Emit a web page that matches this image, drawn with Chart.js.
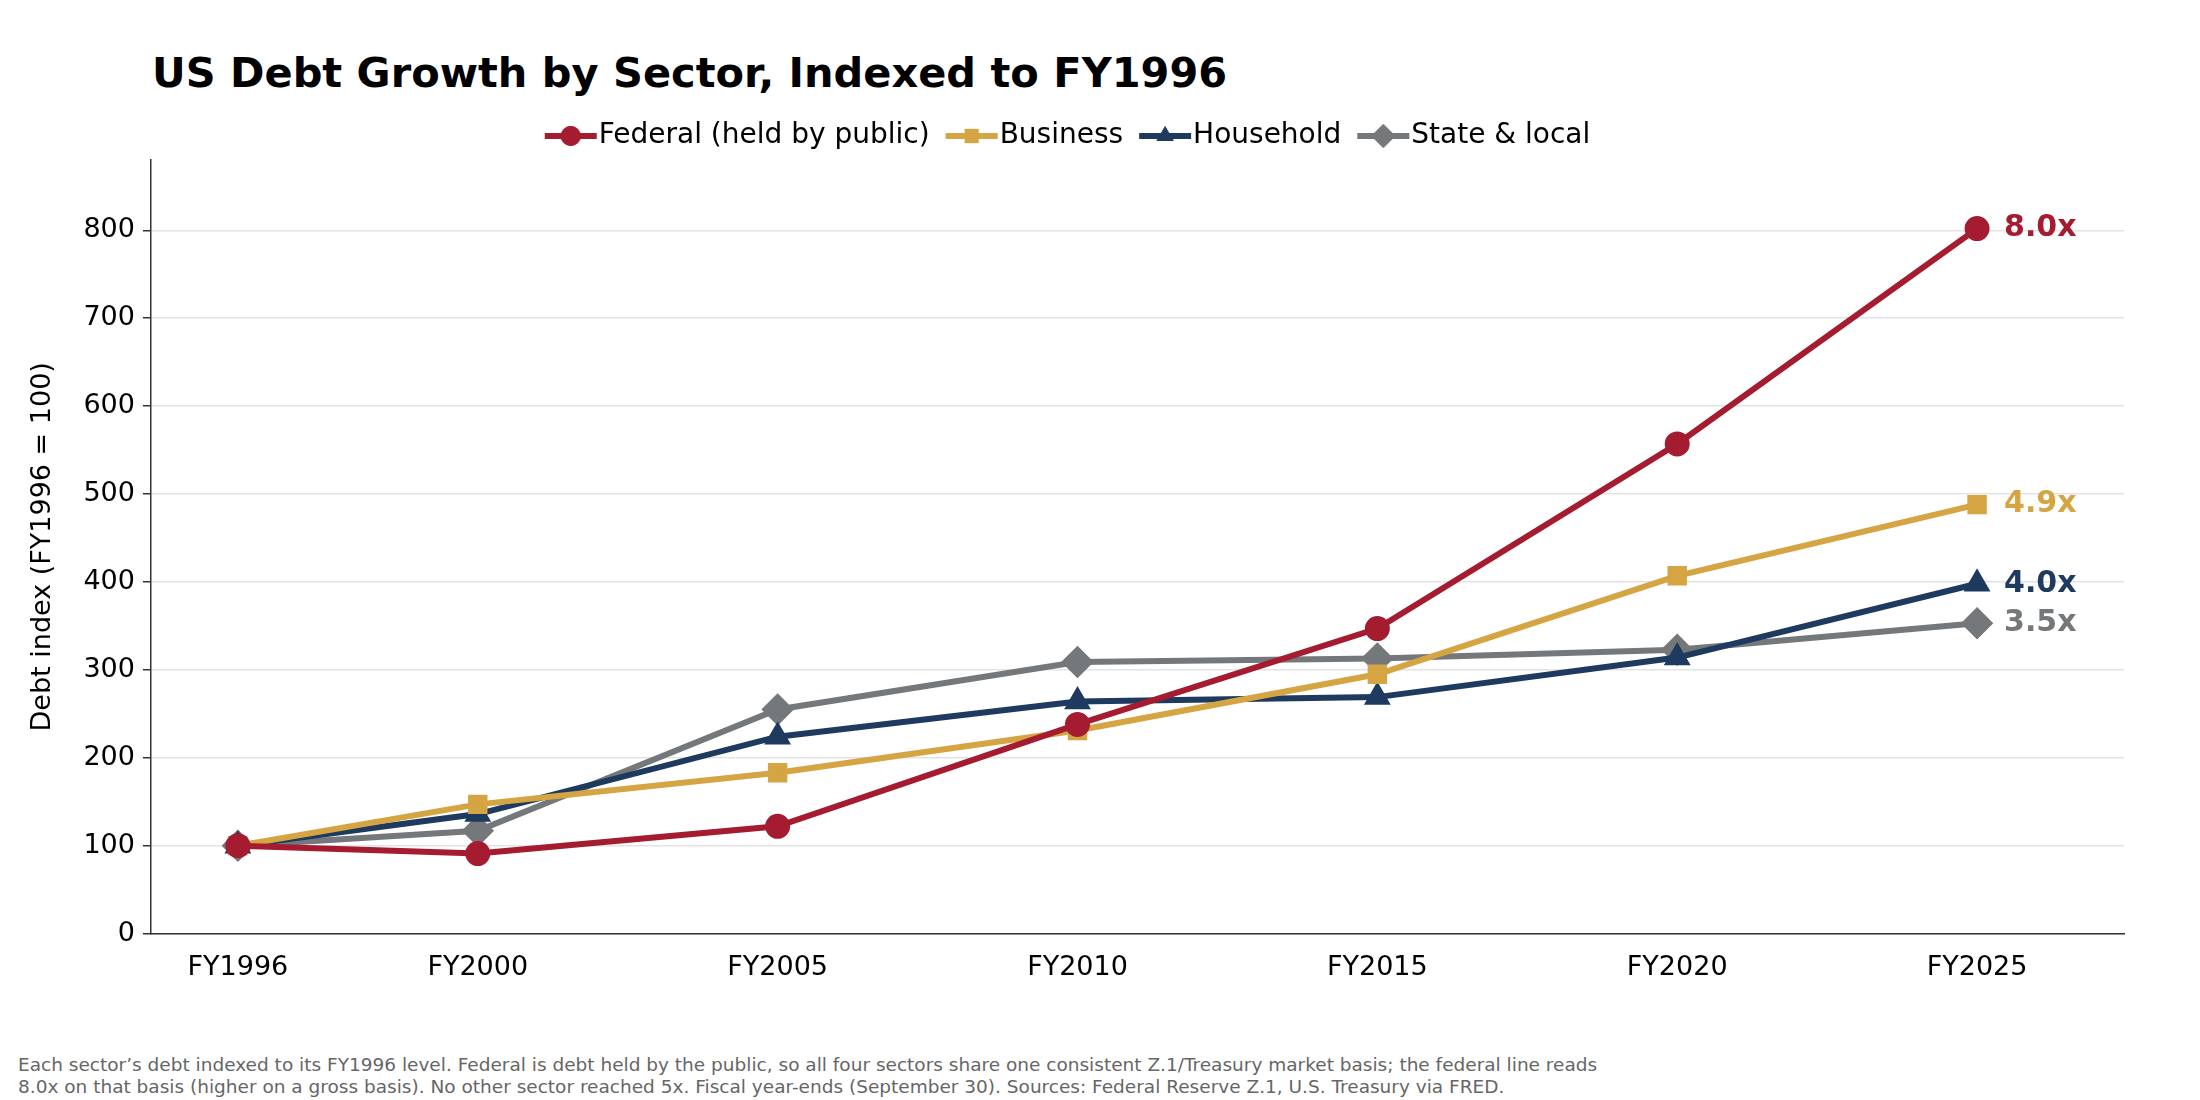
<!DOCTYPE html>
<html><head><meta charset="utf-8">
<script src="https://cdn.jsdelivr.net/npm/chart.js@4.4.1/dist/chart.umd.min.js"></script>
<style>
body{margin:0;background:#fff;font-family:"DejaVu Sans",sans-serif;}
#wrap{position:relative;width:2200px;height:1100px;}
#title{position:absolute;left:152px;top:48px;font-size:41.5px;font-weight:bold;color:#000;}
#cw{position:absolute;left:0;top:94px;width:2200px;height:900px;}
#foot{position:absolute;left:18px;top:1054px;font-size:18.5px;color:#666;line-height:22px;}
</style></head><body>
<div id="wrap">
<div id="title">US Debt Growth by Sector, Indexed to FY1996</div>
<div id="cw"><canvas id="c"></canvas></div>
<div id="foot">Each sector’s debt indexed to its FY1996 level. Federal is debt held by the public, so all four sectors share one consistent Z.1/Treasury market basis; the federal line reads<br>8.0x on that basis (higher on a gross basis). No other sector reached 5x. Fiscal year-ends (September 30). Sources: Federal Reserve Z.1, U.S. Treasury via FRED.</div>
</div>
<script>
const years = [1996, 2000, 2005, 2010, 2015, 2020, 2025];
const federal = [100, 91, 122, 238, 347, 557, 802];
const business = [100, 147, 183, 231, 295, 407, 488];
const household = [100, 136, 224, 264, 269, 314, 398];
const stateLocal = [100, 117, 255, 309, 313, 323, 353];
const endLabels = ["8.0x", "4.9x", "4.0x", "3.5x"];
const names = ["Federal (held by public)", "Business", "Household", "State & local"];
const colors = ["#A51C30", "#D4A542", "#1F3A5F", "#75787B"];
const styles = ["circle", "rect", "triangle", "rectRot"];
const series = [federal, business, household, stateLocal];

function legendIcon(i) {
  const cv = document.createElement('canvas');
  cv.width = 54; cv.height = 28;
  const g = cv.getContext('2d');
  g.strokeStyle = colors[i]; g.fillStyle = colors[i]; g.lineWidth = 6;
  g.beginPath(); g.moveTo(1, 14); g.lineTo(53, 14); g.stroke();
  Chart.helpers.drawPoint(g, {pointStyle: styles[i], radius: i === 3 ? 12 : 10, rotation: 0, borderWidth: 0}, 27, 14);
  g.fill();
  return cv;
}

const datasets = series.map((s, i) => ({
  label: names[i],
  data: s.map((v, j) => ({x: years[j], y: v})),
  borderColor: colors[i], backgroundColor: colors[i],
  borderWidth: 6, pointStyle: styles[i],
  pointRadius: i === 3 ? 12 : 9.5, pointHoverRadius: 9,
  tension: 0
}));

const endLabelPlugin = {
  id: 'endLabels',
  afterDatasetsDraw(chart) {
    const ctx = chart.ctx;
    ctx.save();
    ctx.font = 'bold 30px "DejaVu Sans"';
    ctx.textBaseline = 'middle';
    chart.data.datasets.forEach((ds, i) => {
      const meta = chart.getDatasetMeta(i);
      const p = meta.data[meta.data.length - 1];
      ctx.fillStyle = colors[i];
      ctx.fillText(endLabels[i], p.x + 27, p.y);
    });
    ctx.restore();
  }
};

Chart.defaults.font.family = '"DejaVu Sans", sans-serif';
new Chart(document.getElementById('c'), {
  type: 'line',
  data: {datasets},
  plugins: [endLabelPlugin],
  options: {
    responsive: true, maintainAspectRatio: false, animation: false,
    layout: {padding: {left: 23, right: 76, top: 0, bottom: 0}},
    plugins: {
      legend: {
        position: 'top',
        labels: {
          usePointStyle: true, font: {size: 28}, color: '#000', padding: 28,
          generateLabels: (chart) => chart.data.datasets.map((ds, i) => ({
            text: ds.label, pointStyle: legendIcon(i), fillStyle: colors[i],
            strokeStyle: colors[i], lineWidth: 0, hidden: false, datasetIndex: i, fontColor: '#000'
          }))
        }
      },
      tooltip: {enabled: false}
    },
    scales: {
      x: {
        type: 'linear', min: 1994.55, max: 2027.45,
        afterBuildTicks: (ax) => { ax.ticks = years.map(v => ({value: v})); },
        ticks: {callback: v => 'FY' + v, font: {size: 27}, color: '#000', padding: 10, maxRotation: 0},
        grid: {display: false, drawTicks: true, tickLength: 8, tickColor: '#333'},
        border: {color: '#333', width: 1.5}
      },
      y: {
        min: 0, max: 880,
        afterBuildTicks: (ax) => { ax.ticks = [0,100,200,300,400,500,600,700,800].map(v => ({value: v})); },
        ticks: {font: {size: 27}, color: '#000', padding: 8},
        title: {display: true, text: 'Debt index (FY1996 = 100)', font: {size: 27}, color: '#000', padding: {bottom: 16}},
        grid: {color: '#e3e3e3', lineWidth: 1.5, tickLength: 8, tickColor: '#333'},
        border: {color: '#333', width: 1.5}
      }
    }
  }
});
</script>
</body></html>
